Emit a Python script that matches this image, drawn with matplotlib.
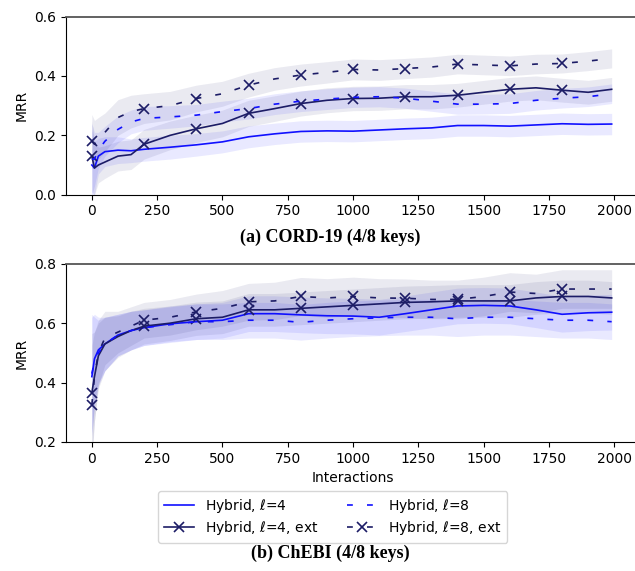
import matplotlib.pyplot as plt

# sample positions (interactions)
x_pts = [0, 10, 25, 50, 100, 150, 200, 300, 400, 500, 600, 700, 800, 900,
         1000, 1100, 1200, 1300, 1400, 1500, 1600, 1700, 1800, 1900, 1990]

# (a) CORD-19: mean MRR and band half-width
cord_h4 = [0.10, 0.09, 0.13, 0.145, 0.15, 0.148, 0.153, 0.16, 0.168, 0.178, 0.195, 0.205, 0.213,
           0.215, 0.214, 0.218, 0.222, 0.225, 0.233, 0.233, 0.231, 0.235, 0.239, 0.237, 0.238]
cord_h4_err = [0.12, 0.09, 0.06, 0.05, 0.045, 0.04, 0.04, 0.04, 0.038, 0.037, 0.037, 0.036, 0.036,
               0.036, 0.036, 0.036, 0.036, 0.036, 0.036, 0.036, 0.036, 0.036, 0.036, 0.036, 0.036]
cord_h4e = [0.13, 0.09, 0.10, 0.11, 0.13, 0.135, 0.17, 0.20, 0.222, 0.24, 0.274, 0.29, 0.307,
            0.318, 0.324, 0.325, 0.33, 0.33, 0.335, 0.345, 0.355, 0.36, 0.352, 0.345, 0.355]
cord_h4e_err = [0.12, 0.09, 0.06, 0.055, 0.05, 0.05, 0.05, 0.048, 0.046, 0.045, 0.044, 0.043, 0.042,
                0.042, 0.041, 0.041, 0.041, 0.041, 0.04, 0.04, 0.04, 0.04, 0.04, 0.04, 0.04]
cord_h8 = [0.12, 0.12, 0.15, 0.18, 0.22, 0.245, 0.257, 0.262, 0.268, 0.28, 0.29, 0.305, 0.315,
           0.322, 0.328, 0.33, 0.325, 0.315, 0.305, 0.305, 0.307, 0.318, 0.325, 0.33, 0.34]
cord_h8_err = [0.12, 0.09, 0.06, 0.05, 0.045, 0.04, 0.04, 0.038, 0.036, 0.035, 0.035, 0.035, 0.035,
               0.035, 0.034, 0.034, 0.034, 0.034, 0.034, 0.033, 0.033, 0.033, 0.033, 0.033, 0.033]
cord_h8e = [0.18, 0.17, 0.19, 0.21, 0.26, 0.28, 0.29, 0.30, 0.324, 0.34, 0.369, 0.39, 0.403,
            0.412, 0.422, 0.42, 0.425, 0.43, 0.44, 0.437, 0.434, 0.44, 0.442, 0.45, 0.459]
cord_h8e_err = [0.09, 0.08, 0.07, 0.065, 0.06, 0.055, 0.05, 0.048, 0.045, 0.042, 0.04, 0.038, 0.037,
                0.036, 0.035, 0.035, 0.034, 0.034, 0.033, 0.033, 0.033, 0.033, 0.032, 0.032, 0.032]

# (b) ChEBI
chebi_h4 = [0.42, 0.48, 0.51, 0.53, 0.56, 0.575, 0.585, 0.598, 0.605, 0.61, 0.632, 0.632, 0.628,
            0.625, 0.624, 0.62, 0.632, 0.645, 0.658, 0.66, 0.658, 0.645, 0.63, 0.635, 0.637]
chebi_h4_err = [0.2, 0.15, 0.11, 0.09, 0.07, 0.065, 0.06, 0.06, 0.06, 0.06, 0.06, 0.06, 0.06,
                0.06, 0.06, 0.06, 0.06, 0.06, 0.06, 0.06, 0.06, 0.06, 0.06, 0.06, 0.06]
chebi_h4e = [0.365, 0.42, 0.49, 0.53, 0.555, 0.575, 0.59, 0.60, 0.615, 0.62, 0.645, 0.645, 0.65,
             0.655, 0.66, 0.665, 0.67, 0.672, 0.675, 0.675, 0.675, 0.685, 0.69, 0.69, 0.685]
chebi_h4e_err = [0.2, 0.15, 0.11, 0.09, 0.07, 0.065, 0.06, 0.058, 0.056, 0.055, 0.055, 0.055, 0.055,
                 0.055, 0.055, 0.055, 0.055, 0.055, 0.055, 0.055, 0.055, 0.055, 0.055, 0.055, 0.055]
chebi_h8 = [0.43, 0.47, 0.50, 0.53, 0.56, 0.575, 0.585, 0.595, 0.605, 0.605, 0.61, 0.61, 0.603,
            0.61, 0.615, 0.618, 0.62, 0.62, 0.615, 0.62, 0.62, 0.615, 0.61, 0.61, 0.605]
chebi_h8_err = [0.2, 0.15, 0.11, 0.09, 0.07, 0.065, 0.06, 0.06, 0.06, 0.06, 0.06, 0.06, 0.06,
                0.06, 0.06, 0.06, 0.06, 0.06, 0.06, 0.06, 0.06, 0.06, 0.06, 0.06, 0.06]
chebi_h8e = [0.325, 0.42, 0.50, 0.55, 0.57, 0.59, 0.61, 0.62, 0.638, 0.65, 0.672, 0.675, 0.69,
             0.685, 0.69, 0.685, 0.684, 0.68, 0.68, 0.69, 0.705, 0.70, 0.715, 0.715, 0.715]
chebi_h8e_err = [0.2, 0.15, 0.11, 0.09, 0.07, 0.065, 0.06, 0.06, 0.06, 0.06, 0.062, 0.063, 0.064,
                 0.065, 0.065, 0.065, 0.065, 0.065, 0.065, 0.065, 0.065, 0.065, 0.065, 0.065, 0.065]

labels = [r"Hybrid, $\ell$=4", r"Hybrid, $\ell$=4, ext", r"Hybrid, $\ell$=8", r"Hybrid, $\ell$=8, ext"]

BLUE = "#1010ff"
NAVY = "#1c1c66"
DASH = (0, (3.5, 8.5))

# markers every 200 interactions
mark_idx = [i for i, v in enumerate(x_pts) if v % 200 == 0]


def draw(ax, series, ylim, yticks):
    styles = [(BLUE, "-", None), (NAVY, "-", "x"), (BLUE, DASH, None), (NAVY, DASH, "x")]
    handles = []
    for (mean, err), (col, ls, mk), lab in zip(series, styles, labels):
        lo = [m - e for m, e in zip(mean, err)]
        hi = [m + e for m, e in zip(mean, err)]
        ax.fill_between(x_pts, lo, hi, color=col, alpha=0.09, lw=0, zorder=1)
        h, = ax.plot(x_pts, mean, color=col, linestyle=ls, lw=1.2, marker=mk,
                     markevery=mark_idx, markersize=7.5, markeredgewidth=1.2, label=lab, zorder=3)
        handles.append(h)
    ax.set_xlim(-100, 2100)
    ax.set_ylim(*ylim)
    ax.set_yticks(yticks)
    ax.set_xticks([0, 250, 500, 750, 1000, 1250, 1500, 1750, 2000])
    ax.set_ylabel("MRR", fontsize=10)
    ax.tick_params(labelsize=10)
    ax.spines["top"].set_color("#555555")
    ax.spines["top"].set_linewidth(1.3)
    return handles


fig = plt.figure(figsize=(6.35, 5.71), dpi=100)
ax1 = fig.add_axes([0.1035, 0.659, 0.905, 0.312])
ax2 = fig.add_axes([0.1035, 0.226, 0.905, 0.312])

draw(ax1, [(cord_h4, cord_h4_err), (cord_h4e, cord_h4e_err),
           (cord_h8, cord_h8_err), (cord_h8e, cord_h8e_err)],
     (0.0, 0.6), [0.0, 0.2, 0.4, 0.6])
handles = draw(ax2, [(chebi_h4, chebi_h4_err), (chebi_h4e, chebi_h4e_err),
                     (chebi_h8, chebi_h8_err), (chebi_h8e, chebi_h8e_err)],
               (0.2, 0.8), [0.2, 0.4, 0.6, 0.8])
ax2.set_xlabel("Interactions", fontsize=10)

fig.legend(handles, labels, ncol=2, loc="center", bbox_to_anchor=(0.524, 0.0946),
           fontsize=10, handlelength=2.2, columnspacing=2.0, borderpad=0.4,
           labelspacing=0.3, frameon=True)

fig.text(0.52, 0.585, "(a) CORD-19 (4/8 keys)", ha="center", va="center",
         family="Liberation Serif", fontweight="bold", fontsize=13)
fig.text(0.52, 0.031, "(b) ChEBI (4/8 keys)", ha="center", va="center",
         family="Liberation Serif", fontweight="bold", fontsize=13)

fig.savefig("out.png", dpi=100)
